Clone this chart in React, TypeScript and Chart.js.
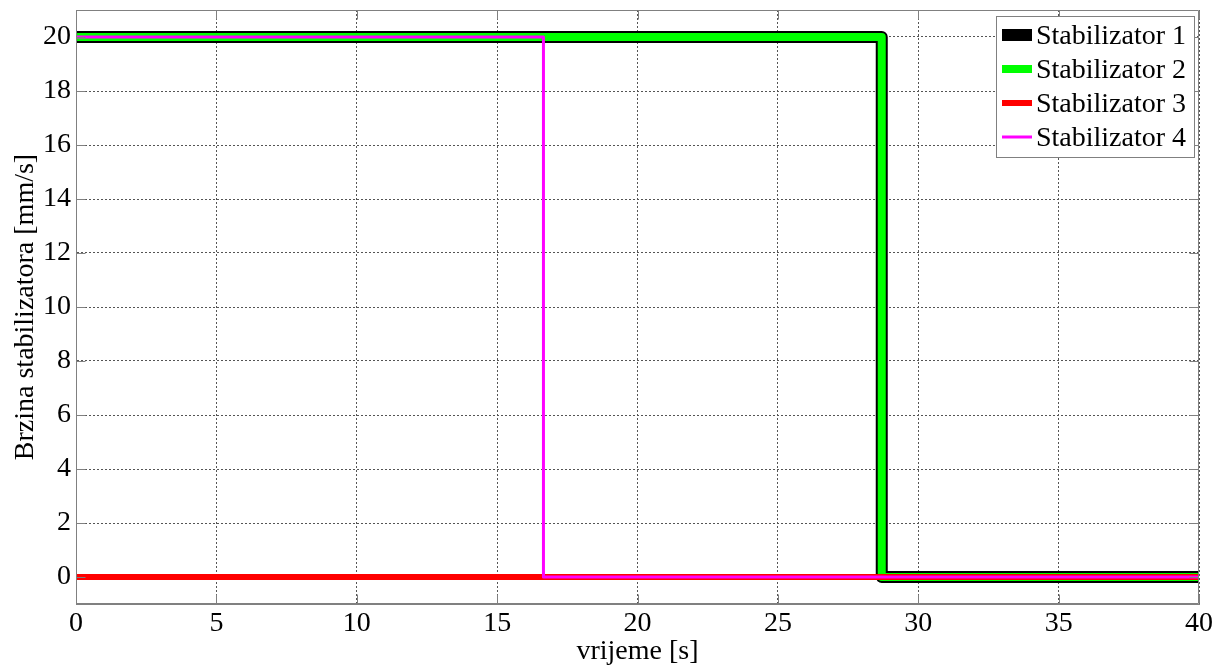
import React, { useEffect, useRef } from "react";
import { Chart, registerables } from "chart.js";

Chart.register(...registerables);

const seriesNames = ["Stabilizator 1", "Stabilizator 2", "Stabilizator 3", "Stabilizator 4"];
const seriesColors = ["#000000", "#00ff00", "#ff0000", "#ff00ff"];
const seriesWidths = [12, 8, 6, 3];

const s1X = [0, 28.7, 28.7, 40];
const s1Y = [20, 20, 0, 0];
const s2X = [0, 28.7, 28.7, 40];
const s2Y = [20, 20, 0, 0];
const s3X = [0, 40];
const s3Y = [0, 0];
const s4X = [0, 16.65, 16.65, 40];
const s4Y = [20, 20, 0, 0];

const xTicks = [0, 5, 10, 15, 20, 25, 30, 35, 40];
const yTicks = [0, 2, 4, 6, 8, 10, 12, 14, 16, 18, 20];

const xTitle = "vrijeme [s]";
const yTitle = "Brzina stabilizatora [mm/s]";

const FONT_FAMILY = "'Liberation Serif', 'Times New Roman', serif";
const FONT_SIZE = 28;

const toPoints = (xs: number[], ys: number[]) => xs.map((x, i) => ({ x, y: ys[i] }));

const framePlugin = {
  id: "matlabFrame",
  afterDraw(chart: any) {
    const { ctx, chartArea: a, scales } = chart;
    ctx.save();
    ctx.strokeStyle = "#808080";
    ctx.lineWidth = 1;
    const L = Math.round(a.left) + 0.5;
    const R = Math.round(a.right) - 0.5;
    const T = Math.round(a.top) + 0.5;
    const B = Math.round(a.bottom) - 0.5;
    ctx.beginPath();
    ctx.rect(L, T, R - L, B - T);
    ctx.stroke();
    const tl = 9;
    ctx.beginPath();
    yTicks.forEach((v) => {
      const py = Math.round(scales.y.getPixelForValue(v)) + 0.5;
      ctx.moveTo(L, py);
      ctx.lineTo(L + tl, py);
      ctx.moveTo(R, py);
      ctx.lineTo(R - tl, py);
    });
    xTicks.forEach((v) => {
      const px = Math.round(scales.x.getPixelForValue(v)) + 0.5;
      ctx.moveTo(px, B);
      ctx.lineTo(px, B - tl);
      ctx.moveTo(px, T);
      ctx.lineTo(px, T + tl);
    });
    ctx.stroke();

    // legend
    const lx = 996.5, ly = 16.5, lw = 198, lh = 141;
    ctx.fillStyle = "#ffffff";
    ctx.fillRect(lx, ly, lw, lh);
    ctx.strokeStyle = "#808080";
    ctx.strokeRect(lx, ly, lw, lh);
    ctx.font = `${FONT_SIZE}px ${FONT_FAMILY}`;
    ctx.textAlign = "left";
    ctx.textBaseline = "alphabetic";
    seriesNames.forEach((name, i) => {
      const cy = 35 + i * 34;
      ctx.strokeStyle = seriesColors[i];
      ctx.lineWidth = seriesWidths[i];
      ctx.lineCap = "butt";
      ctx.beginPath();
      ctx.moveTo(1002, cy);
      ctx.lineTo(1032, cy);
      ctx.stroke();
      ctx.fillStyle = "#000000";
      ctx.fillText(name, 1036, cy + 9);
    });
    ctx.restore();
  },
};

export default function App() {
  const canvasRef = useRef<HTMLCanvasElement | null>(null);

  useEffect(() => {
    if (!canvasRef.current) return;
    const font = { family: FONT_FAMILY, size: FONT_SIZE };
    const xs = [s1X, s2X, s3X, s4X];
    const ys = [s1Y, s2Y, s3Y, s4Y];
    const chart = new Chart(canvasRef.current, {
      type: "line",
      data: {
        datasets: seriesNames.map((name, i) => ({
          label: name,
          data: toPoints(xs[i], ys[i]),
          borderColor: seriesColors[i],
          backgroundColor: seriesColors[i],
          borderWidth: seriesWidths[i],
          pointRadius: 0,
          tension: 0,
          fill: false,
          borderJoinStyle: "round" as const,
          borderCapStyle: "butt" as const,
          order: 4 - i,
        })),
      },
      options: {
        animation: false,
        responsive: false,
        maintainAspectRatio: false,
        parsing: true,
        layout: { padding: { top: 10, right: 22, left: 0, bottom: 0 } },
        plugins: {
          legend: { display: false },
          tooltip: { enabled: false },
        },
        scales: {
          x: {
            type: "linear",
            min: 0,
            max: 40,
            afterBuildTicks: (s: any) => {
              s.ticks = xTicks.map((v) => ({ value: v }));
            },
            afterFit: (s: any) => {
              s.height = 65;
              s.paddingLeft = 0;
              s.paddingRight = 0;
            },
            ticks: {
              font,
              color: "#000000",
              padding: 3,
              maxRotation: 0,
              autoSkip: false,
            },
            grid: { color: "#555555", lineWidth: 1, drawTicks: false },
            border: { display: true, color: "#808080", width: 1, dash: [2, 2] },
            title: {
              display: true,
              text: xTitle,
              font,
              color: "#000000",
              padding: { top: 0, bottom: 1 },
            },
          },
          y: {
            type: "linear",
            min: -1,
            max: 21,
            afterBuildTicks: (s: any) => {
              s.ticks = yTicks.map((v) => ({ value: v }));
            },
            afterFit: (s: any) => {
              s.width = 76;
              s.paddingTop = 0;
              s.paddingBottom = 0;
            },
            ticks: {
              font,
              color: "#000000",
              padding: 5,
              autoSkip: false,
            },
            grid: { color: "#555555", lineWidth: 1, drawTicks: false },
            border: { display: true, color: "#808080", width: 1, dash: [2, 2] },
            title: {
              display: true,
              text: yTitle,
              font,
              color: "#000000",
              padding: { top: 9, bottom: 0 },
            },
          },
        },
      },
      plugins: [framePlugin],
    } as any);
    return () => chart.destroy();
  }, []);

  return (
    <div style={{ position: "fixed", left: 0, top: 0, width: 1221, height: 669, background: "#ffffff" }}>
      <canvas ref={canvasRef} width={1221} height={669} style={{ width: 1221, height: 669, display: "block" }} />
    </div>
  );
}
